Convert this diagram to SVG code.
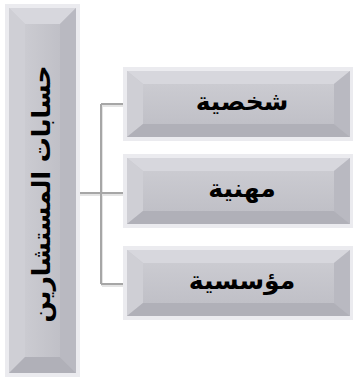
<svg xmlns="http://www.w3.org/2000/svg" width="354" height="380" viewBox="0 0 354 380">
<defs>
<linearGradient id="face" x1="0" y1="0" x2="0" y2="1">
<stop offset="0" stop-color="#cbcbd1"/>
<stop offset="1" stop-color="#c0c0c7"/>
</linearGradient>
<linearGradient id="faceV" x1="0" y1="0" x2="1" y2="0">
<stop offset="0" stop-color="#cbcbd1"/>
<stop offset="1" stop-color="#c0c0c7"/>
</linearGradient>
</defs>
<style>
.frame{fill:#ebebef}
.top{fill:#d7d7dd}
.left{fill:#cfcfd5}
.right{fill:#b9b9c1}
.bottom{fill:#b0b0b8}
.conn{fill:none;stroke:#a6a6a6;stroke-width:2}
.shadow{fill:none;stroke:#e4e4e4;stroke-width:2}
.lbl{font-family:"DejaVu Sans",sans-serif;font-weight:bold;font-size:25px;fill:#000;text-anchor:middle}
.big{font-size:25px}
</style>
<g id="connectors">
<path class="shadow" d="M80 195 H102 M102 106 V286 M102 106 H124 M102 195 H124 M102 286 H124"/>
<path class="conn" d="M79 193 H101 M101 104 V284 M101 104 H124 M101 193 H124 M101 284 H124"/>
</g>
<g id="root">
<rect class="frame" x="5" y="4" width="75" height="373"/>
<rect x="9" y="8" width="67" height="365" fill="url(#faceV)"/>
<polygon class="top" points="9,8 76,8 60,24 25,24"/>
<polygon class="left" points="9,8 25,24 25,357 9,373"/>
<polygon class="right" points="76,8 76,373 60,357 60,24"/>
<polygon class="bottom" points="9,373 76,373 60,357 25,357"/>
<rect x="25" y="24" width="35" height="333" fill="url(#faceV)"/>
<text class="lbl big" transform="translate(50,194) rotate(-90)">حسابات المستشارين</text>
</g>
<g id="n1">
<rect class="frame" x="123" y="67" width="230" height="74"/>
<rect x="127" y="71" width="223" height="66" fill="url(#face)"/>
<polygon class="top" points="127,71 350,71 334,84 143,84"/>
<polygon class="left" points="127,71 143,84 143,124 127,137"/>
<polygon class="right" points="350,71 350,137 334,124 334,84"/>
<polygon class="bottom" points="127,137 350,137 334,124 143,124"/>
<rect x="143" y="84" width="191" height="40" fill="url(#face)"/>
<text class="lbl" x="242" y="110">شخصية</text>
</g>
<g id="n2">
<rect class="frame" x="123" y="154" width="230" height="74"/>
<rect x="127" y="158" width="223" height="66" fill="url(#face)"/>
<polygon class="top" points="127,158 350,158 334,171 143,171"/>
<polygon class="left" points="127,158 143,171 143,211 127,224"/>
<polygon class="right" points="350,158 350,224 334,211 334,171"/>
<polygon class="bottom" points="127,224 350,224 334,211 143,211"/>
<rect x="143" y="171" width="191" height="40" fill="url(#face)"/>
<text class="lbl" x="242" y="197">مهنية</text>
</g>
<g id="n3">
<rect class="frame" x="123" y="246" width="230" height="74"/>
<rect x="127" y="250" width="223" height="66" fill="url(#face)"/>
<polygon class="top" points="127,250 350,250 334,263 143,263"/>
<polygon class="left" points="127,250 143,263 143,303 127,316"/>
<polygon class="right" points="350,250 350,316 334,303 334,263"/>
<polygon class="bottom" points="127,316 350,316 334,303 143,303"/>
<rect x="143" y="263" width="191" height="40" fill="url(#face)"/>
<text class="lbl" x="242" y="289">مؤسسية</text>
</g>
</svg>
